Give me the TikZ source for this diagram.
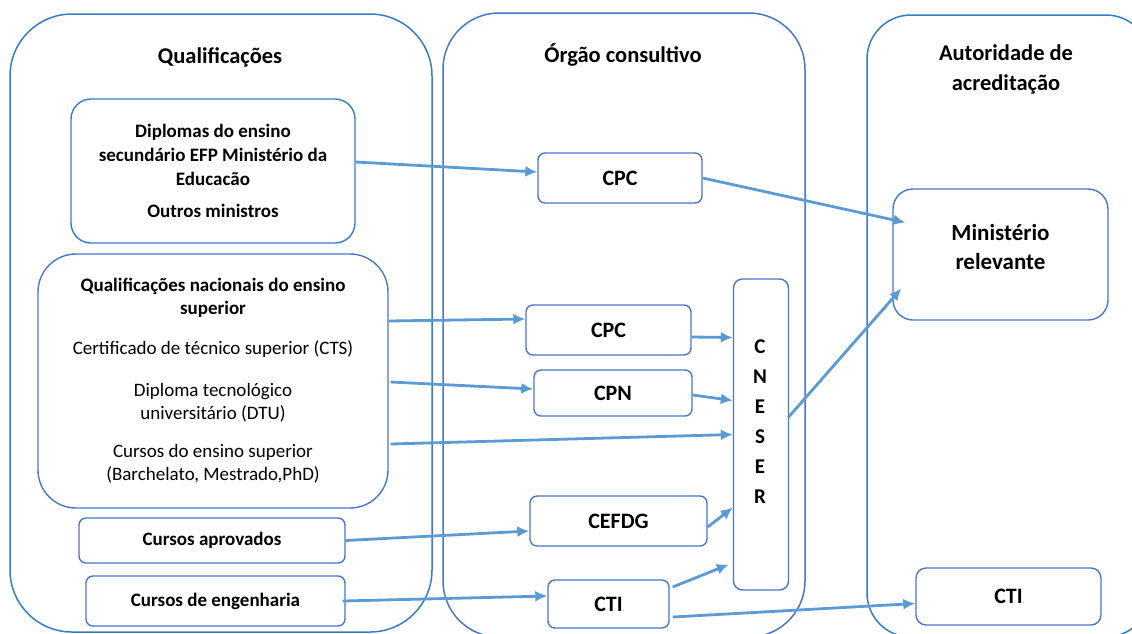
\documentclass[tikz,border=0pt]{standalone}
\usepackage{fontspec}
\setmainfont{Carlito}
\usepackage{tikz}
\usepackage{xcolor}
\usetikzlibrary{positioning,arrows,arrows.meta}

\definecolor{grpblue}{RGB}{52,125,200}
\definecolor{boxblue}{RGB}{72,118,200}
\definecolor{arrowblue}{RGB}{91,155,213}

\begin{document}
\begin{tikzpicture}[
		x=1pt,y=-1pt,
		>={Latex[length=12pt,width=11pt]},
		group/.style={
			draw=grpblue,
			line width=1.5pt,
			rectangle,
			rounded corners=60pt
		},
		box/.style={
			draw=boxblue,
			line width=1.4pt,
			rectangle,
			rounded corners=7pt,
			align=center,
			inner sep=2pt,
			font=\bfseries\fontsize{19}{24}\selectfont
		},
		lbl/.style={font=\bfseries\fontsize{22}{24}\selectfont},
		title/.style={
			align=center,
			font=\bfseries\fontsize{22.5}{30}\selectfont
		},
		flow/.style={->,draw=arrowblue,line width=2.8pt}
		]
		\useasboundingbox (0,0) rectangle (1132,633);
		\clip (0,0) rectangle (1132,633);
		
		% Groups
		\node[group, minimum width=422pt, minimum height=618pt, rounded corners=62pt] (Qual) at (221,323) {};
		\node[group, draw=boxblue, minimum width=362pt, minimum height=624pt, rounded corners=56pt] (Organ) at (624,325) {};
		\node[group, minimum width=283pt, minimum height=622pt, rounded corners=44pt] (Autor) at (1008.5,326) {};
		
		\node[title] (QualT) at (220,57) {Qualificações};
		\node[title] (OrganT) at (623,55) {Órgão consultivo};
		\node[title] (AutorT) at (1006,69) {Autoridade de\\acreditação};
		
		% Qualifications
		\node[box, draw=grpblue, rounded corners=20pt, minimum width=284pt, minimum height=144pt] (Dipl) at (213,171)
		{Diplomas do ensino\\secundário EFP Ministério da\\Educacão\\[8pt]Outros ministros};
		\node[box, rounded corners=38pt, minimum width=350pt, minimum height=254pt, font=\bfseries\fontsize{19}{23}\selectfont] (QN) at (213,381)
		{Qualificações nacionais do ensino\\superior\\[17pt]\mdseries Certificado de técnico superior (CTS)\\[19pt]\mdseries Diploma tecnológico\\\mdseries universitário (DTU)\\[15pt]\mdseries Cursos do ensino superior\\\mdseries (Barchelato, Mestrado,PhD)};
		\node[box, minimum width=266pt, minimum height=45pt] (Aprov) at (212,540.5) {Cursos aprovados};
		\node[box, minimum width=259pt, minimum height=50pt] (Eng) at (215.5,601) {Cursos de engenharia};
		
		% Advisory bodies
		\node[box, lbl, minimum width=164pt, minimum height=50pt] (CPC1) at (620,178) {CPC};
		\node[box, lbl, minimum width=165pt, minimum height=50pt] (CPC2) at (608.5,330) {CPC};
		\node[box, lbl, minimum width=158pt, minimum height=46pt] (CPN) at (613,393) {CPN};
		\node[box, lbl, minimum width=177pt, minimum height=50pt] (CEFDG) at (618.5,521) {CEFDG};
		\node[box, lbl, minimum width=121pt, minimum height=48pt] (CTIa) at (608.5,604) {CTI};
		\node[box, minimum width=55pt, minimum height=311pt, rounded corners=9pt] (CNESER) at (761,434.5) {};
		\node[lbl, align=center, font=\bfseries\fontsize{21}{30}\selectfont] (CNESERT) at (760,422) {C\\N\\E\\S\\E\\R};
		
		% Accreditation
		\node[box, lbl, align=center, font=\bfseries\fontsize{23}{29}\selectfont, rounded corners=20pt, minimum width=215pt, minimum height=131pt] (Min) at (1000.5,254.5) {Ministério\\relevante\\[-14pt]};
		\node[box, lbl, rounded corners=10pt, minimum width=185pt, minimum height=57pt] (CTIb) at (1008.5,596.5) {CTI};
		
		% Flows
		\draw[flow] ([yshift=9pt]Dipl.east) -- ([yshift=6pt]CPC1.west);
		\draw[flow] (CPC1.east) -- ([xshift=13pt,yshift=32pt]Min.west);
		\draw[flow] ([yshift=60pt]QN.east) -- ([yshift=11pt]CPC2.west);
		\draw[flow] ([xshift=2pt,yshift=-1pt]QN.east) -- ([yshift=4pt]CPN.west);
		\draw[flow] ([xshift=2pt,yshift=-63pt]QN.east) -- (CNESER.west);
		\draw[flow] (Aprov.east) -- ([yshift=-10pt]CEFDG.west);
		\draw[flow] ([xshift=-3pt]Eng.east) -- ([yshift=8pt]CTIa.west);
		\draw[flow] ([yshift=-7pt]CPC2.east) -- ([yshift=97pt]CNESER.west);
		\draw[flow] ([yshift=-2pt]CPN.east) -- ([yshift=34pt]CNESER.west);
		\draw[flow] ([yshift=-6pt]CEFDG.east) -- ([yshift=-73pt]CNESER.west);
		\draw[flow] ([xshift=3pt,yshift=17pt]CTIa.east) -- ([xshift=-4pt,yshift=-130pt]CNESER.west);
		\draw[flow] ([xshift=-1pt,yshift=17pt]CNESER.east) -- ([xshift=9pt,yshift=-34pt]Min.west);
		\draw[flow] ([xshift=3pt,yshift=-13pt]CTIa.east) -- ([yshift=-7pt]CTIb.west);
	\end{tikzpicture}
\end{document}
